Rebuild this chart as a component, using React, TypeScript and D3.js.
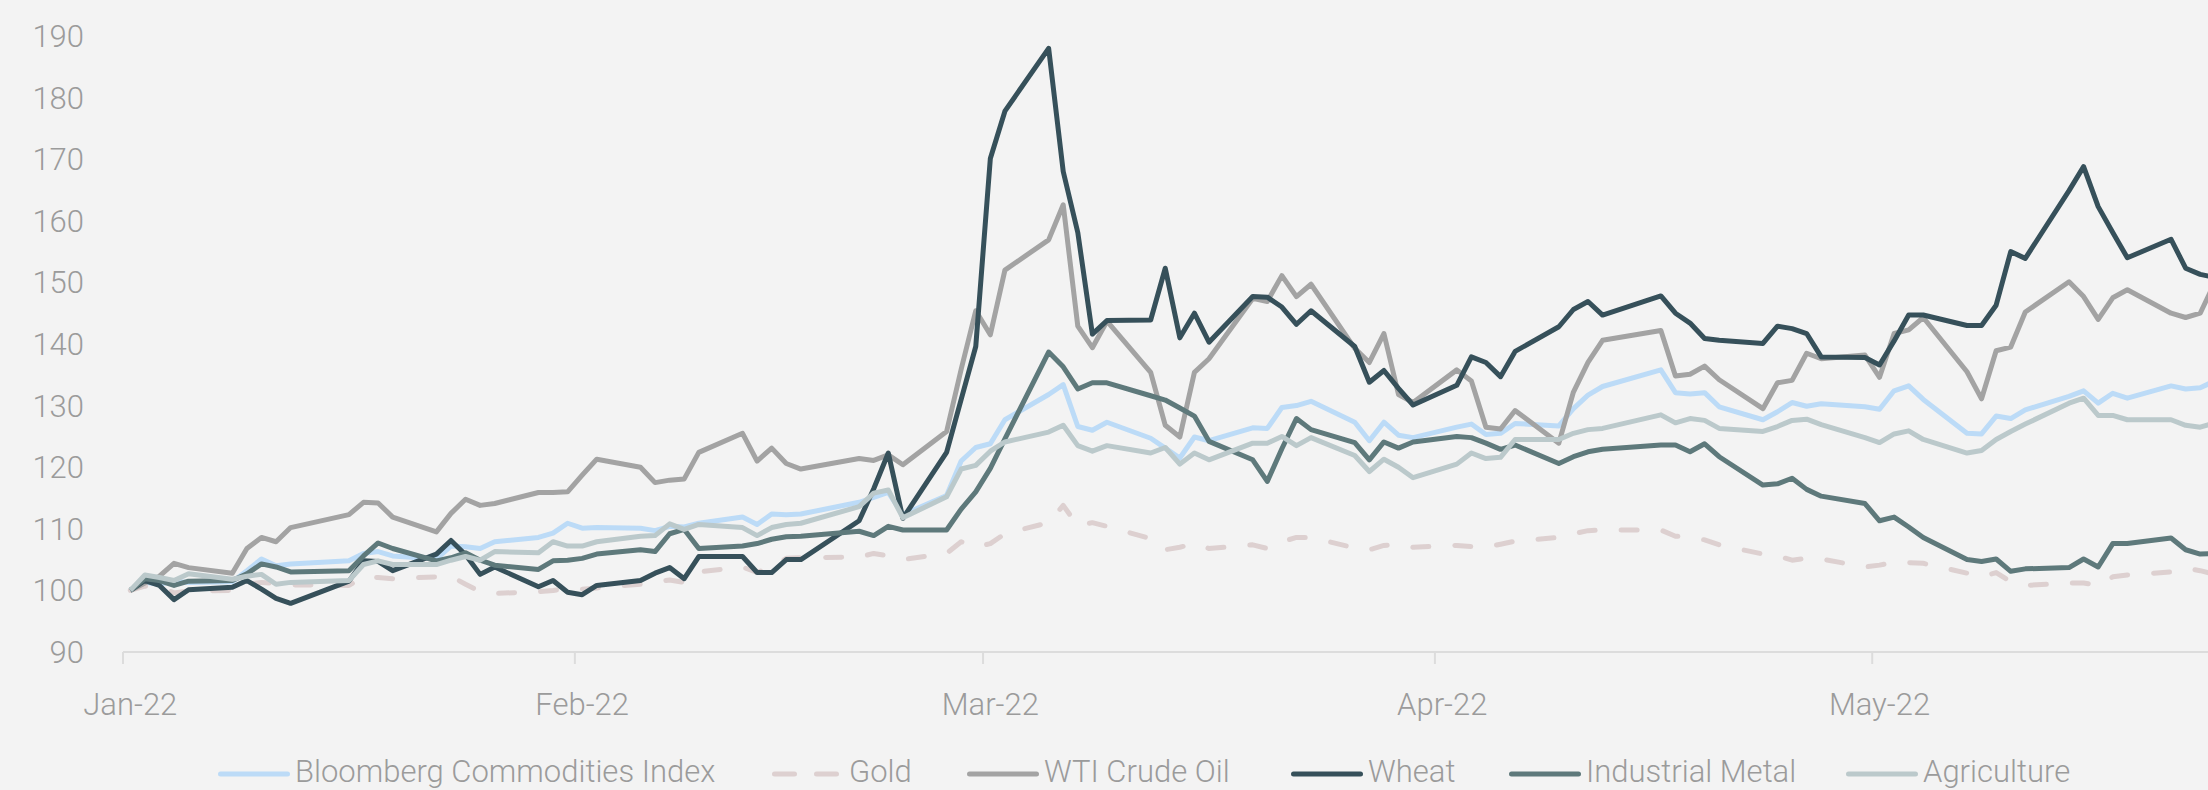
import React from "react";
import * as d3 from "d3";

const dates = [
  "2022-01-03","2022-01-04","2022-01-05","2022-01-06","2022-01-07","2022-01-10","2022-01-11","2022-01-12","2022-01-13","2022-01-14",
  "2022-01-18","2022-01-19","2022-01-20","2022-01-21","2022-01-24","2022-01-25","2022-01-26","2022-01-27","2022-01-28","2022-01-31",
  "2022-02-01","2022-02-02","2022-02-03","2022-02-04","2022-02-07","2022-02-08","2022-02-09","2022-02-10","2022-02-11","2022-02-14",
  "2022-02-15","2022-02-16","2022-02-17","2022-02-18","2022-02-22","2022-02-23","2022-02-24","2022-02-25","2022-02-28",
  "2022-03-01","2022-03-02","2022-03-03","2022-03-04","2022-03-07","2022-03-08","2022-03-09","2022-03-10","2022-03-11","2022-03-14",
  "2022-03-15","2022-03-16","2022-03-17","2022-03-18","2022-03-21","2022-03-22","2022-03-23","2022-03-24","2022-03-25","2022-03-28",
  "2022-03-29","2022-03-30","2022-03-31",
  "2022-04-01","2022-04-04","2022-04-05","2022-04-06","2022-04-07","2022-04-08","2022-04-11","2022-04-12","2022-04-13","2022-04-14",
  "2022-04-18","2022-04-19","2022-04-20","2022-04-21","2022-04-22","2022-04-25","2022-04-26","2022-04-27","2022-04-28","2022-04-29",
  "2022-05-02","2022-05-03","2022-05-04","2022-05-05","2022-05-06","2022-05-09","2022-05-10","2022-05-11","2022-05-12","2022-05-13",
  "2022-05-16","2022-05-17","2022-05-18","2022-05-19","2022-05-20","2022-05-23","2022-05-24","2022-05-25","2022-05-26"
];

const bloomberg = [
  100, 101.3, 101.0, 101.5, 101.3, 101.4, 103.2, 105.1, 104.0, 104.3, 104.8, 106.0, 106.3, 105.6, 105.1, 107.2, 107.1, 106.8, 107.9, 108.6,
  109.3, 110.9, 110.1, 110.2, 110.1, 109.7, 110.4, 110.3, 110.9, 111.9, 110.7, 112.4, 112.3, 112.4, 114.3, 115.1, 115.9, 112.3, 115.4,
  121.0, 123.2, 123.8, 127.7, 131.8, 133.4, 126.6, 126.0, 127.3, 124.7, 123.1, 121.5, 124.9, 124.3, 126.4, 126.3, 129.7, 130.0, 130.7, 127.3, 124.3, 127.3, 125.2,
  124.8, 126.5, 127.0, 125.3, 125.5, 127.1, 126.7, 129.5, 131.7, 133.1, 135.8, 132.1, 131.9, 132.1, 129.8, 127.7, 129.0, 130.5, 129.9, 130.3,
  129.8, 129.4, 132.4, 133.2, 131.0, 125.5, 125.4, 128.3, 127.9, 129.3, 131.5, 132.4, 130.4, 132.0, 131.2, 133.2, 132.7, 132.9, 134.0
];

const gold = [
  100.0, 100.7, 100.5, 99.6, 99.9, 100.0, 101.0, 101.3, 101.1, 100.9, 100.8, 102.2, 102.1, 101.9, 102.2, 102.3, 101.0, 99.8, 99.5, 99.8,
  100.0, 100.3, 100.2, 100.4, 101.0, 101.3, 101.7, 101.3, 103.0, 103.8, 102.9, 103.9, 105.2, 105.3, 105.4, 106.0, 105.6, 105.0, 106.0,
  107.9, 107.0, 107.6, 109.2, 111.0, 113.8, 110.5, 111.0, 110.4, 108.4, 106.6, 107.0, 107.6, 106.8, 107.4, 106.8, 107.9, 108.6, 108.6, 106.9, 106.6, 107.3, 107.5,
  107.0, 107.3, 107.1, 107.0, 107.5, 108.0, 108.6, 109.2, 109.7, 109.8, 109.8, 108.8, 108.7, 108.2, 107.4, 105.9, 105.6, 104.9, 105.2, 105.1,
  103.8, 104.1, 104.6, 104.5, 104.4, 102.8, 102.2, 102.9, 101.4, 100.8, 101.2, 101.2, 100.8, 102.2, 102.5, 103.0, 103.6, 103.2, 102.6
];

const wti = [
  100, 101.2, 102.3, 104.4, 103.7, 102.8, 106.8, 108.6, 107.9, 110.2, 112.3, 114.3, 114.2, 111.9, 109.5, 112.5, 114.8, 113.8, 114.1, 115.9,
  115.9, 116.0, 118.7, 121.3, 120.0, 117.5, 117.9, 118.1, 122.4, 125.5, 121.0, 123.1, 120.6, 119.7, 121.4, 121.1, 122.0, 120.4, 125.8,
  135.9, 145.4, 141.5, 152.0, 156.9, 162.6, 142.9, 139.4, 143.7, 135.4, 126.8, 124.9, 135.4, 137.6, 147.4, 146.9, 151.1, 147.7, 149.7, 139.3, 137.0, 141.7, 131.8,
  130.5, 135.8, 134.0, 126.5, 126.2, 129.2, 123.9, 132.2, 137.0, 140.6, 142.2, 134.8, 135.1, 136.4, 134.2, 129.5, 133.7, 134.1, 138.5, 137.6,
  138.2, 134.6, 141.7, 142.3, 144.3, 135.5, 131.1, 138.9, 139.5, 145.2, 150.1, 147.7, 144.0, 147.5, 148.8, 145.0, 144.3, 145.0, 150.0
];

const wheat = [
  100, 101.6, 100.8, 98.5, 100.1, 100.5, 101.6, 100.2, 98.7, 97.9, 101.5, 104.8, 104.7, 103.2, 105.9, 108.1, 105.8, 102.6, 103.8, 100.6,
  101.6, 99.7, 99.3, 100.8, 101.6, 102.8, 103.7, 101.9, 105.5, 105.5, 102.9, 102.9, 105.0, 105.0, 111.3, 116.5, 122.3, 111.7, 122.4,
  131.0, 139.6, 170.1, 177.8, 188.0, 168.0, 158.1, 141.6, 143.8, 143.9, 152.3, 141.0, 145.0, 140.3, 147.7, 147.6, 146.0, 143.2, 145.4, 139.6, 133.8, 135.7, 132.8,
  130.1, 133.3, 137.9, 137.0, 134.7, 138.8, 142.8, 145.6, 146.9, 144.7, 147.8, 145.0, 143.4, 140.9, 140.6, 140.1, 142.9, 142.5, 141.7, 137.9,
  137.8, 136.6, 140.5, 144.7, 144.7, 143.0, 143.0, 146.3, 155.0, 153.9, 164.9, 168.8, 162.3, 158.1, 154.0, 157.0, 152.3, 151.3, 150.8
];

const industrialMetal = [
  100, 101.9, 101.6, 100.8, 101.5, 101.6, 102.7, 104.3, 103.8, 103.0, 103.2, 105.6, 107.7, 106.8, 104.8, 105.3, 106.1, 104.9, 104.1, 103.4,
  104.8, 104.9, 105.2, 105.9, 106.6, 106.3, 109.2, 109.9, 106.8, 107.2, 107.6, 108.3, 108.7, 108.8, 109.6, 108.9, 110.4, 109.8, 109.8,
  113.2, 116.0, 119.8, 124.6, 138.7, 136.3, 132.7, 133.7, 133.7, 131.6, 130.9, 129.6, 128.3, 124.2, 121.2, 117.7, 123.0, 127.9, 126.1, 124.0, 121.2, 124.1, 123.1,
  124.1, 125.0, 124.8, 123.9, 122.9, 123.6, 120.6, 121.7, 122.5, 122.9, 123.6, 123.6, 122.5, 123.8, 121.7, 117.1, 117.3, 118.2, 116.4, 115.3,
  114.1, 111.3, 111.9, 110.3, 108.6, 105.0, 104.7, 105.1, 103.1, 103.5, 103.7, 105.1, 103.8, 107.6, 107.6, 108.5, 106.6, 105.9, 106.0
];

const agriculture = [
  100, 102.5, 102.1, 101.6, 102.7, 101.8, 102.3, 102.6, 101.0, 101.3, 101.6, 104.2, 104.8, 104.2, 104.2, 104.9, 105.5, 104.9, 106.3, 106.1,
  107.9, 107.2, 107.2, 107.9, 108.8, 108.9, 110.8, 109.9, 110.7, 110.2, 108.9, 110.2, 110.7, 110.9, 113.6, 115.8, 116.3, 111.8, 115.2,
  119.7, 120.3, 122.6, 124.1, 125.7, 126.8, 123.5, 122.6, 123.5, 122.3, 123.2, 120.5, 122.3, 121.2, 123.9, 123.9, 125.0, 123.5, 124.8, 121.9, 119.3, 121.3, 120.0,
  118.3, 120.5, 122.3, 121.4, 121.6, 124.5, 124.5, 125.5, 126.1, 126.3, 128.5, 127.2, 127.9, 127.6, 126.3, 125.8, 126.6, 127.6, 127.8, 126.9,
  124.8, 124.0, 125.4, 125.9, 124.5, 122.3, 122.7, 124.5, 125.8, 127.0, 130.4, 131.2, 128.4, 128.4, 127.7, 127.7, 126.8, 126.5, 127.2
];

const seriesNames = ["Bloomberg Commodities Index", "Gold", "WTI Crude Oil", "Wheat", "Industrial Metal", "Agriculture"];
const seriesValues = [bloomberg, gold, wti, wheat, industrialMetal, agriculture];
const seriesColors = ["#BCDBF7", "#DDD0D0", "#A3A3A3", "#36505A", "#5E797B", "#BBC9CB"];
const seriesDashed = [false, true, false, false, false, false];

const yTicks = [90, 100, 110, 120, 130, 140, 150, 160, 170, 180, 190];
const xTickDates = ["2022-01-03", "2022-02-03", "2022-03-03", "2022-04-03", "2022-05-03"];

const W = 2208;
const H = 790;
const PX_PER_DAY = 14.577;
const X0 = 123;
const FONT = "Roboto, 'Liberation Sans', Arial, sans-serif";
const TEXT_COLOR = "#9B9B9B";

const parse = d3.utcParse("%Y-%m-%d");
const HALF_DAY = 12 * 3600 * 1000;

export default function App() {
  const start = parse(dates[0]) as Date;
  const end = d3.utcDay.offset(start, 146);
  const x = d3.scaleUtc().domain([start, end]).range([X0, X0 + 146 * PX_PER_DAY]);
  const y = d3.scaleLinear().domain([90, 190]).range([652, 36]);
  const parsed = dates.map((d) => new Date((parse(d) as Date).getTime() + HALF_DAY));
  const fmt = d3.utcFormat("%b-%y");

  const line = d3
    .line<number>()
    .x((_, i) => x(parsed[i]))
    .y((v) => y(v));

  const legendStarts = [218, 772, 967, 1291, 1509, 1846];
  const legendY = 774;

  return (
    <svg
      width={W}
      height={H}
      style={{ position: "absolute", left: 0, top: 0, display: "block" }}
      fontFamily={FONT}
    >
      <rect x={0} y={0} width={W} height={H} fill="#F3F3F3" />

      {yTicks.map((t) => (
        <text
          key={t}
          x={84}
          y={y(t) + 11}
          textAnchor="end"
          fontSize={31}
          fontWeight={300}
          fill={TEXT_COLOR}
        >
          {t}
        </text>
      ))}

      <line x1={X0} x2={W} y1={652} y2={652} stroke="#DCDCDC" strokeWidth={2} />
      {xTickDates.map((d) => {
        const dt = parse(d) as Date;
        const tx = x(dt);
        return (
          <g key={d}>
            <line x1={tx} x2={tx} y1={652} y2={664} stroke="#DCDCDC" strokeWidth={2} />
            <text
              x={x(new Date(dt.getTime() + HALF_DAY))}
              y={715}
              textAnchor="middle"
              fontSize={31}
              fontWeight={300}
              fill={TEXT_COLOR}
            >
              {fmt(dt)}
            </text>
          </g>
        );
      })}

      <defs>
        <clipPath id="plotclip">
          <rect x={0} y={0} width={W} height={660} />
        </clipPath>
      </defs>
      <g clipPath="url(#plotclip)">
        {seriesValues.map((vals, si) => (
          <path
            key={seriesNames[si]}
            d={line(vals) || ""}
            fill="none"
            stroke={seriesColors[si]}
            strokeWidth={5}
            strokeLinejoin="round"
            strokeLinecap={seriesDashed[si] ? "round" : "butt"}
            strokeDasharray={seriesDashed[si] ? "16 26" : undefined}
          />
        ))}
      </g>

      {seriesNames.map((name, si) => {
        const lx = legendStarts[si];
        return (
          <g key={name}>
            <line
              x1={lx + 2.5}
              x2={lx + 69.5}
              y1={legendY}
              y2={legendY}
              stroke={seriesColors[si]}
              strokeWidth={5}
              strokeLinecap="round"
              strokeDasharray={seriesDashed[si] ? "20 22" : undefined}
            />
            <text
              x={lx + 77}
              y={782}
              fontSize={31}
              fontWeight={300}
              fill={TEXT_COLOR}
            >
              {name}
            </text>
          </g>
        );
      })}
    </svg>
  );
}
